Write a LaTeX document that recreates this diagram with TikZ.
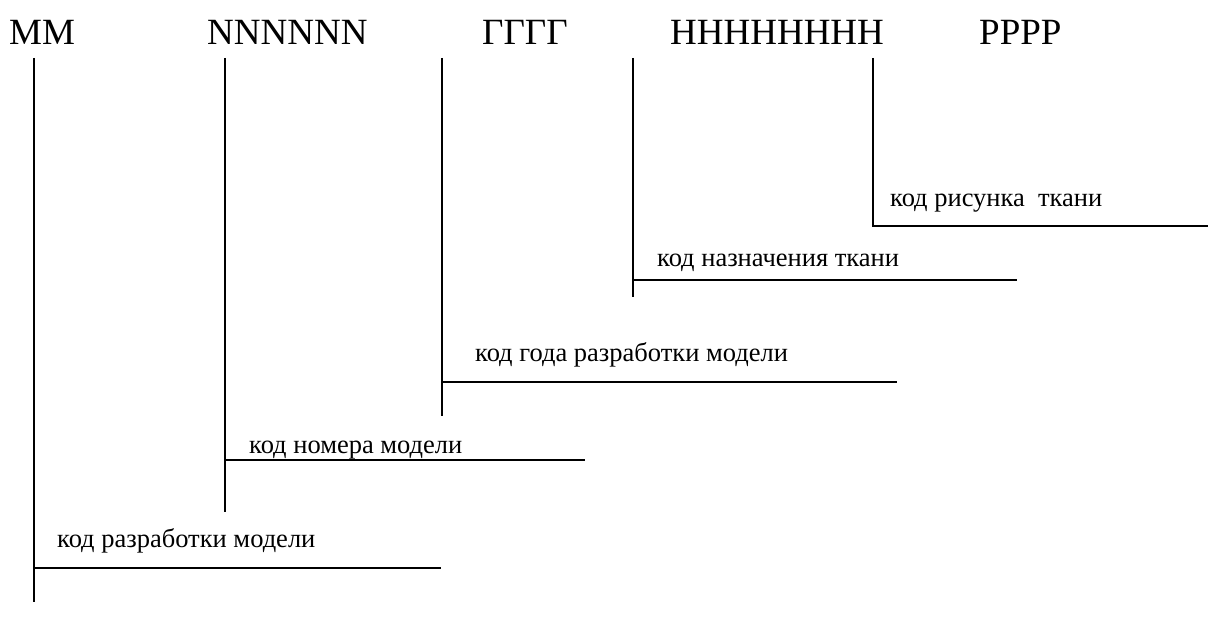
\documentclass[tikz,border=0pt]{standalone}
\usepackage{fontspec}
\setmainfont{Liberation Serif}
\newfontfamily\tnr{Liberation Serif}
\begin{document}
\begin{tikzpicture}[x=1pt,y=-1pt,
  head/.style={anchor=base west,inner sep=0pt,font=\tnr\fontsize{37}{40}\selectfont},
  lbl/.style={anchor=base west,inner sep=0pt,font=\tnr\fontsize{26.5}{30}\selectfont},
  ln/.style={line width=1.8pt,black}]
\useasboundingbox (0,0) rectangle (1208,628);
% header codes
\node[head] (hm) at (9,45) {ММ};
\node[head] (hn) at (207,45) {NNNNNN};
\node[head] (hg) at (482,45) {ГГГГ};
\node[head] (hh) at (670,45) {НННННННН};
\node[head] (hp) at (979,45) {РРРР};
% labels
\node[lbl] (l5) at (890,207) {код рисунка\ \ ткани};
\node[lbl] (l4) at (657,267) {код назначения ткани};
\node[lbl] (l3) at (475,362) {код года разработки модели};
\node[lbl] (l2) at (249,453) {код номера модели};
\node[lbl] (l1) at (57,547) {код разработки модели};
% coordinates
\coordinate (t1) at (34,58);  \coordinate (b1) at (34,602);
\coordinate (c1) at (34,568); \coordinate (e1) at (441,568);
\coordinate (t2) at (225,58); \coordinate (b2) at (225,512);
\coordinate (c2) at (225,460); \coordinate (e2) at (585,460);
\coordinate (t3) at (442,58); \coordinate (b3) at (442,416);
\coordinate (c3) at (442,382); \coordinate (e3) at (897,382);
\coordinate (t4) at (633,58); \coordinate (b4) at (633,297);
\coordinate (c4) at (633,280); \coordinate (e4) at (1017,280);
\coordinate (t5) at (873,58); \coordinate (c5) at (873,226);
\coordinate (e5) at (1208,226);
% lines
\draw[ln] (t1) -- (b1);
\draw[ln] (c1) -- (e1);
\draw[ln] (t2) -- (b2);
\draw[ln] (c2) -- (e2);
\draw[ln] (t3) -- (b3);
\draw[ln] (c3) -- (e3);
\draw[ln] (t4) -- (b4);
\draw[ln] (c4) -- (e4);
\draw[ln] (t5) -- (c5) -- (e5);
\end{tikzpicture}
\end{document}
